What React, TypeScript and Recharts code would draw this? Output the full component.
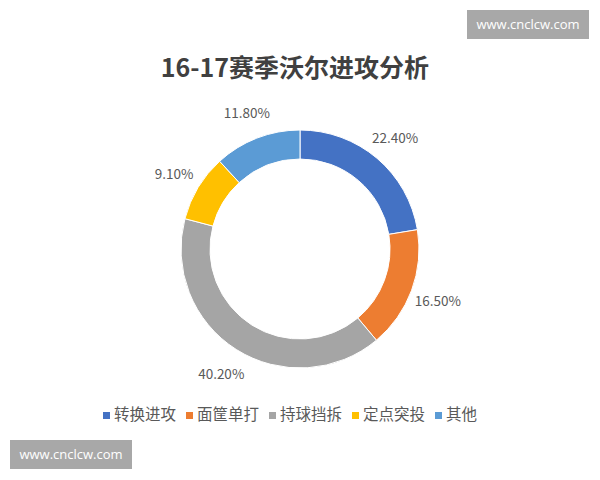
import { PieChart, Pie, Cell, Legend } from "recharts";

const categories = ["转换进攻", "面筐单打", "持球挡拆", "定点突投", "其他"];
const shares = [22.4, 16.5, 40.2, 9.1, 11.8];
const colors = ["#4472C4", "#ED7D31", "#A5A5A5", "#FFC000", "#5B9BD5"];

const data = categories.map((name, i) => ({ name, value: shares[i] }));

const FONT = "'Noto Sans CJK SC', 'Noto Sans', sans-serif";
const RAD = Math.PI / 180;

const renderLabel = (p: any) => {
  const r = p.outerRadius + 28;
  const x = p.cx + r * Math.cos(-p.midAngle * RAD);
  const y = p.cy + r * Math.sin(-p.midAngle * RAD);
  return (
    <text x={x} y={y} fill="#595959" fontSize={13.5} fontFamily={FONT} textAnchor="middle" dominantBaseline="central">
      {p.value.toFixed(2)}%
    </text>
  );
};

const watermark: React.CSSProperties = {
  position: "absolute",
  width: 122,
  height: 29,
  background: "#A8A8A8",
  color: "#fff",
  fontFamily: "'Open Sans', sans-serif",
  fontSize: 13,
  lineHeight: "29px",
  textAlign: "center",
};

export default function App() {
  return (
    <div style={{ position: "absolute", left: 0, top: 0, width: 600, height: 480, background: "#fff", fontFamily: FONT }}>
      <div style={{ position: "absolute", left: 0, top: 48, width: 590, textAlign: "center", fontSize: 25, fontWeight: "bold", color: "#404040" }}>
        16-17赛季沃尔进攻分析
      </div>
      <PieChart width={600} height={480}>
        <Pie
          data={data}
          dataKey="value"
          nameKey="name"
          cx={295}
          cy={244}
          innerRadius={90}
          outerRadius={119}
          startAngle={90}
          endAngle={-270}
          stroke="#fff"
          strokeWidth={1}
          label={renderLabel}
          labelLine={false}
          isAnimationActive={false}
        >
          {data.map((d, i) => (
            <Cell key={d.name} fill={colors[i]} />
          ))}
        </Pie>
        <Legend
          iconType="square"
          iconSize={7}
          itemSorter={(item: any) => categories.indexOf(item.value)}
          wrapperStyle={{ top: 402, left: 0, width: 590, fontSize: 15.5 }}
          formatter={(v: string) => <span style={{ color: "#595959" }}>{v}</span>}
        />
      </PieChart>
      <div style={{ ...watermark, left: 467, top: 10 }}>www.cnclcw.com</div>
      <div style={{ ...watermark, left: 10, top: 440 }}>www.cnclcw.com</div>
    </div>
  );
}
